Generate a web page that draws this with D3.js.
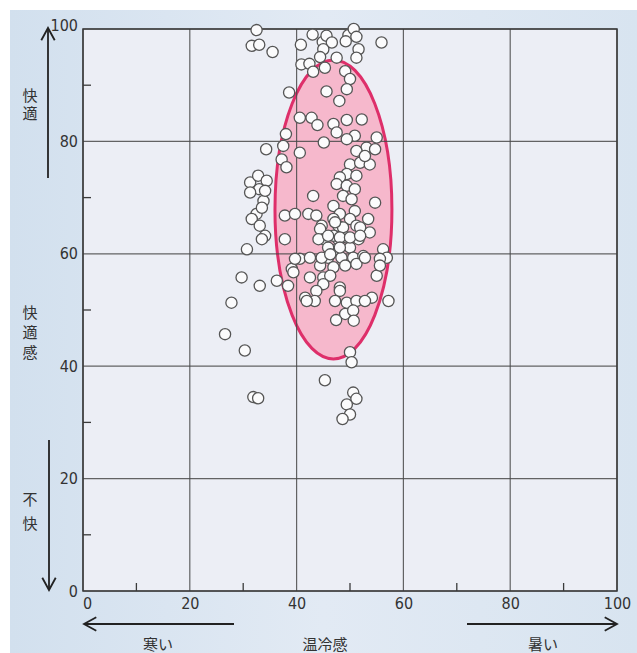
<!DOCTYPE html>
<html>
<head>
<meta charset="utf-8">
<script src="https://cdn.jsdelivr.net/npm/d3@7"></script>
<style>
  body { margin: 0; background: #fff; }
  svg { display: block; }
  .tick text { font-family: "Liberation Sans Narrow", "DejaVu Sans Condensed", sans-serif; font-size: 16px; fill: #333; }
  .jp { font-family: "Noto Sans CJK JP", sans-serif; font-size: 15px; fill: #333; }
  .vert { writing-mode: vertical-rl; }
</style>
</head>
<body>
<svg id="chart"></svg>
<script>
// tick values for both axes (0-100)
const majorTicks = [0, 20, 40, 60, 80, 100];
const minorTicks = [10, 30, 50, 70, 90];

// axis captions
const yTopLabel = '快適';
const yMidLabel = '快適感';
const yBottomLabel = '不快';
const xLeftLabel = '寒い';
const xMidLabel = '温冷感';
const xRightLabel = '暑い';

// comfort zone ellipse (data units: centre and radii)
const zoneCenter = [46.9, 67.9];
const zoneRadius = [10.95, 26.6];

// [温冷感, 快適感] for each respondent
const points = [
  [32.5, 99.8], [31.6, 97.0], [33.0, 97.2], [35.5, 95.9],
  [43.0, 99.0], [40.8, 97.2], [44.9, 97.7], [45.6, 98.8], [46.6, 97.6], [45.0, 96.4],
  [49.7, 98.9], [50.7, 100], [51.2, 98.6], [49.2, 97.8], [51.6, 96.4], [51.2, 94.9], [55.9, 97.6],
  [40.9, 93.7], [42.4, 93.8], [44.4, 95.0], [43.1, 92.4], [45.3, 93.1], [47.5, 94.9],
  [49.1, 92.5], [50.0, 91.1], [49.4, 89.3], [48.0, 87.2], [45.6, 88.9], [38.6, 88.7],
  [40.6, 84.2], [42.8, 84.2], [43.9, 82.9], [46.9, 83.1], [49.4, 83.8], [52.2, 83.9],
  [47.5, 81.6], [50.9, 81.0], [55.0, 80.7], [45.1, 79.8], [49.4, 80.4], [53.1, 78.9],
  [38.0, 81.3], [37.5, 79.2], [34.3, 78.6], [40.6, 78.0], [51.2, 78.3], [54.7, 78.6],
  [37.2, 76.8], [38.1, 75.4], [50.0, 75.9], [51.9, 76.2], [53.7, 75.9], [52.8, 77.4],
  [49.4, 74.2], [48.1, 73.6], [47.5, 72.4], [49.4, 72.1], [50.9, 71.5], [43.1, 70.3],
  [48.7, 70.3], [50.3, 69.7], [54.7, 69.1], [46.9, 68.5], [50.9, 67.6], [48.1, 67.1],
  [37.8, 66.8], [39.7, 67.1], [42.2, 67.1], [43.7, 66.8], [46.9, 66.2], [50.0, 66.2],
  [53.4, 66.2], [44.7, 65.0], [47.8, 65.0], [51.2, 65.0], [51.2, 73.9],
  [53.7, 63.8], [51.9, 64.7], [48.7, 64.7], [49.4, 62.9], [47.8, 62.6], [50.0, 61.1],
  [51.6, 62.6], [47.5, 60.8], [45.9, 59.3], [48.4, 59.3], [50.6, 59.3], [52.5, 59.6],
  [56.2, 60.8], [56.9, 59.3], [55.6, 59.1], [44.4, 57.9], [46.9, 57.6], [49.1, 57.9],
  [51.2, 58.2], [55.0, 56.1], [45.0, 55.8], [48.1, 54.0], [42.5, 55.8], [39.1, 57.3],
  [40.6, 59.1], [42.5, 59.3], [44.7, 59.3], [44.4, 64.4], [45.0, 62.6], [45.9, 61.1],
  [46.9, 63.2], [47.2, 65.6], [37.8, 62.6],
  [44.1, 62.6], [45.9, 63.2], [48.1, 62.9], [50.0, 62.9], [51.9, 63.2], [48.1, 61.1],
  [39.7, 59.1], [46.3, 59.9], [52.8, 59.3], [39.4, 56.7], [46.3, 56.1], [55.6, 57.9],
  [45.0, 54.6], [38.4, 54.3], [43.7, 53.4], [48.1, 53.4], [41.6, 52.2], [43.4, 51.6],
  [47.2, 51.6], [49.4, 51.3], [51.2, 51.6], [54.1, 52.2], [57.2, 51.6], [52.8, 51.6],
  [31.3, 72.7], [32.8, 73.9], [33.0, 71.5], [31.3, 70.9], [33.8, 69.4], [32.5, 67.1],
  [31.6, 66.2], [33.1, 65.0], [34.1, 63.2], [33.5, 62.6], [30.7, 60.8], [29.7, 55.8],
  [33.1, 54.3], [34.4, 73.0], [34.1, 71.2], [33.5, 68.2], [36.3, 55.2],
  [27.8, 51.3], [26.6, 45.7], [30.3, 42.8], [41.9, 51.6],
  [49.1, 49.3], [50.6, 49.9], [47.4, 48.2], [50.7, 48.1], [50.0, 42.5], [50.3, 40.7],
  [45.3, 37.5], [31.9, 34.5], [32.8, 34.3], [50.6, 35.3], [51.2, 34.2], [49.4, 33.2],
  [50.0, 31.4], [48.6, 30.6]
];

const W = 637, H = 653;
const margin = { top: 29, right: 20, bottom: 62, left: 83 };
const width = W - margin.left - margin.right;
const height = H - margin.top - margin.bottom;

const svg = d3.select('#chart').attr('width', W).attr('height', H);

// light blue page background
const defs = svg.append('defs');
const grad = defs.append('linearGradient').attr('id', 'bg').attr('x1', 0).attr('x2', 1).attr('y1', 0).attr('y2', 0);
grad.append('stop').attr('offset', '0%').attr('stop-color', '#d2e0ee');
grad.append('stop').attr('offset', '50%').attr('stop-color', '#e2eaf4');
grad.append('stop').attr('offset', '100%').attr('stop-color', '#d8e4f0');
svg.append('rect').attr('x', 10).attr('y', 10).attr('width', W - 10).attr('height', H - 10).attr('fill', 'url(#bg)');

const g = svg.append('g').attr('transform', `translate(${margin.left},${margin.top})`);

const x = d3.scaleLinear().domain([0, 100]).range([0, width]);
const y = d3.scaleLinear().domain([0, 100]).range([height, 0]);

g.append('rect').attr('width', width).attr('height', height).attr('fill', '#eceef5');

// comfort zone
g.append('ellipse')
  .attr('cx', x(zoneCenter[0]))
  .attr('cy', y(zoneCenter[1]))
  .attr('rx', x(zoneRadius[0]) - x(0))
  .attr('ry', y(0) - y(zoneRadius[1]))
  .attr('fill', '#f6b8cc')
  .attr('stroke', '#de2f6a')
  .attr('stroke-width', 3);

// grid
g.append('g').selectAll('line').data(majorTicks).join('line')
  .attr('x1', d => x(d)).attr('x2', d => x(d))
  .attr('y1', 0).attr('y2', height)
  .attr('stroke', '#4a4a4a').attr('stroke-width', 1.2).attr('opacity', 0.85);
g.append('g').selectAll('line').data(majorTicks).join('line')
  .attr('y1', d => y(d)).attr('y2', d => y(d))
  .attr('x1', 0).attr('x2', width)
  .attr('stroke', '#4a4a4a').attr('stroke-width', 1.2).attr('opacity', 0.85);
g.append('rect').attr('width', width).attr('height', height)
  .attr('fill', 'none').attr('stroke', '#3a3a3a').attr('stroke-width', 1.5);

// minor ticks pointing inward
g.append('g').selectAll('line').data(minorTicks).join('line')
  .attr('x1', d => x(d)).attr('x2', d => x(d))
  .attr('y1', height).attr('y2', height - 8)
  .attr('stroke', '#3a3a3a').attr('stroke-width', 1.3);
g.append('g').selectAll('line').data(minorTicks).join('line')
  .attr('y1', d => y(d)).attr('y2', d => y(d))
  .attr('x1', 0).attr('x2', 8)
  .attr('stroke', '#3a3a3a').attr('stroke-width', 1.3);

// axes: labels only
const xAxis = g.append('g').attr('transform', `translate(0,${height})`)
  .call(d3.axisBottom(x).tickValues(majorTicks).tickSize(0).tickPadding(7));
const yAxis = g.append('g')
  .call(d3.axisLeft(y).tickValues(majorTicks).tickSize(0).tickPadding(5));
[xAxis, yAxis].forEach(a => a.select('.domain').remove());
xAxis.selectAll('.tick text').attr('dx', d => d === 0 ? 4 : 0);
yAxis.selectAll('.tick text').attr('dy', d => d === 100 ? '0.1em' : '0.32em');

// points
g.append('g').selectAll('circle').data(points).join('circle')
  .attr('cx', d => x(d[0]))
  .attr('cy', d => y(d[1]))
  .attr('r', 5.6)
  .attr('fill', '#fbfbfc')
  .attr('stroke', '#555')
  .attr('stroke-width', 1.3);

// arrows
function arrow(x1, y1, x2, y2) {
  const a = Math.atan2(y2 - y1, x2 - x1), L = 14, s = 0.5;
  svg.append('line').attr('x1', x1).attr('y1', y1).attr('x2', x2).attr('y2', y2)
    .attr('stroke', '#222').attr('stroke-width', 1.8);
  svg.append('path')
    .attr('d', `M${x2 - L * Math.cos(a - s)},${y2 - L * Math.sin(a - s)}L${x2},${y2}L${x2 - L * Math.cos(a + s)},${y2 - L * Math.sin(a + s)}`)
    .attr('fill', 'none').attr('stroke', '#222').attr('stroke-width', 1.8);
}
arrow(48, 178, 48, 28);
arrow(49, 440, 49, 590);
arrow(234, 624, 84, 624);
arrow(467, 624, 617, 624);

// vertical captions, one text each; top = centre of first glyph minus half em
function vText(str, cx, top, gap) {
  svg.append('text').attr('class', 'jp vert')
    .attr('x', cx).attr('y', top)
    .style('letter-spacing', gap + 'px')
    .text(str);
}
vText(yTopLabel, 30, 88, 3);
vText(yMidLabel, 30, 305, 5);
vText(yBottomLabel, 30, 492, 9);

[[xLeftLabel, 158], [xMidLabel, 325], [xRightLabel, 543]].forEach(([t, cx]) => {
  svg.append('text').attr('class', 'jp').attr('x', cx).attr('y', 643)
    .attr('text-anchor', 'middle').attr('dominant-baseline', 'central').text(t);
});
</script>
</body>
</html>
